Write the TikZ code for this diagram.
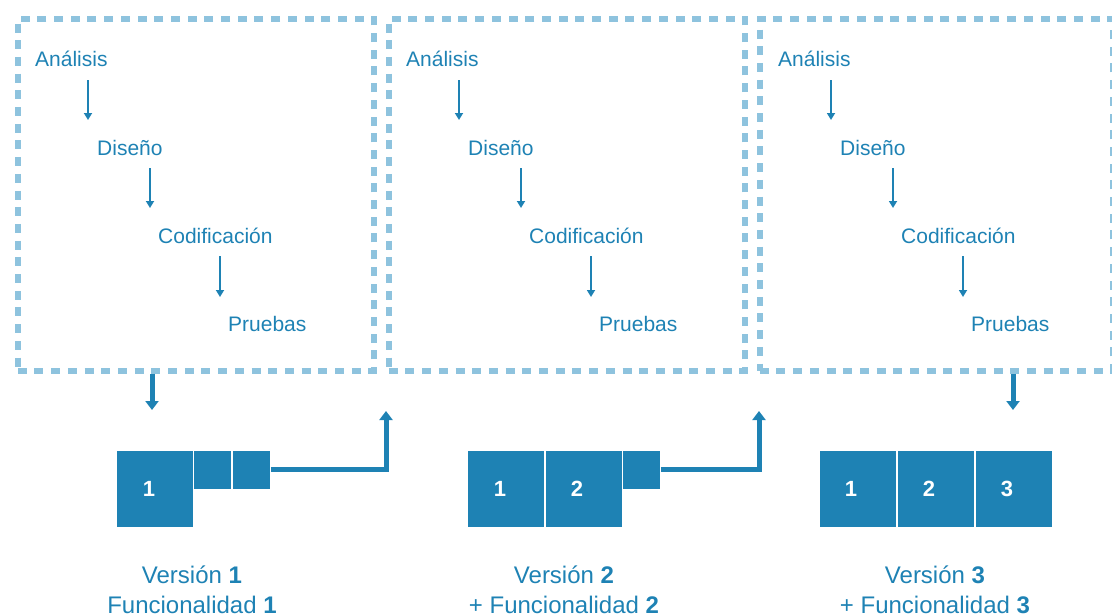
\documentclass[tikz,border=0pt]{standalone}
\usepackage{fontspec}
\setmainfont{Liberation Sans}
\usetikzlibrary{arrows.meta,calc}
\definecolor{dashblue}{HTML}{8EC3DE}
\definecolor{mainblue}{HTML}{1E82B4}
\begin{document}
\begin{tikzpicture}[x=1pt,y=-1pt,
  dbox/.style={draw=dashblue, line width=5.5pt, dash pattern=on 9pt off 7.7pt, inner sep=0, anchor=north west},
  lbl/.style={text=mainblue, font=\fontsize{21}{25}\selectfont, inner sep=0, anchor=base west},
  tarr/.style={draw=mainblue, line width=1.7pt, -{Triangle[width=8pt,length=7pt]}},
  barr/.style={draw=mainblue, line width=5pt, -{Triangle[width=13pt,length=9pt]}},
  blk/.style={fill=mainblue, draw=white, line width=0.8pt, inner sep=0, anchor=north west},
  numtxt/.style={text=white, font=\fontsize{22}{26}\selectfont\bfseries, inner sep=0},
  captxt/.style={text=mainblue, font=\fontsize{24}{28}\selectfont, inner sep=0, anchor=base}
]
\useasboundingbox (0,0) rectangle (1112,616);

% dashed iteration boxes
\node[dbox, minimum width=356pt, minimum height=352pt] (box1) at (15,16) {};
\node[dbox, minimum width=356pt, minimum height=352pt] (box2) at (386,16) {};
\node[dbox, minimum width=353pt, minimum height=352pt] (box3) at (757,16) {};

% phases inside each box
\foreach \i/\dx in {1/0,2/371,3/743}{
  \node[lbl] (ana\i) at (35+\dx,66) {Análisis};
  \node[lbl] (dis\i) at (97+\dx,155) {Diseño};
  \node[lbl] (cod\i) at (158+\dx,243) {Codificación};
  \node[lbl] (pru\i) at (228+\dx,331) {Pruebas};
  \draw[tarr] ($(ana\i.base -| dis\i.west)+(-9,14)$) -- ($(dis\i.base west)+(-9,-35)$);
  \draw[tarr] ($(dis\i.base -| cod\i.west)+(-8,13)$) -- ($(cod\i.base west)+(-8,-35)$);
  \draw[tarr] ($(cod\i.base -| pru\i.west)+(-8,13)$) -- ($(pru\i.base west)+(-8,-34)$);
}

% blocks version 1
\node[blk, minimum width=77pt, minimum height=77pt] (b1a) at (116,450) {};
\node[blk, minimum width=38pt, minimum height=39pt] (b1b) at (193,450) {};
\node[blk, minimum width=38pt, minimum height=39pt] (b1c) at (232,450) {};
\node[numtxt] (n1a) at ([xshift=-6pt]b1a.center) {1};

% blocks version 2
\node[blk, minimum width=77pt, minimum height=77pt] (b2a) at (467,450) {};
\node[blk, minimum width=77pt, minimum height=77pt] (b2b) at (545,450) {};
\node[blk, minimum width=38pt, minimum height=39pt] (b2c) at (622,450) {};
\node[numtxt] (n2a) at ([xshift=-6pt]b2a.center) {1};
\node[numtxt] (n2b) at ([xshift=-7pt]b2b.center) {2};

% blocks version 3
\node[blk, minimum width=77pt, minimum height=77pt] (b3a) at (819,450) {};
\node[blk, minimum width=77pt, minimum height=77pt] (b3b) at (897,450) {};
\node[blk, minimum width=77pt, minimum height=77pt] (b3c) at (975,450) {};
\node[numtxt] (n3a) at ([xshift=-7pt]b3a.center) {1};
\node[numtxt] (n3b) at ([xshift=-7pt]b3b.center) {2};
\node[numtxt] (n3c) at ([xshift=-7pt]b3c.center) {3};

% thick connectors
\coordinate (d1) at (152,410);
\coordinate (d3) at (1013,410);
\coordinate (u1) at (386,411);
\coordinate (u2) at (759,411);
\draw[barr] (box1.south -| d1) -- (d1);
\draw[barr] (box3.south -| d3) -- (d3);
\draw[barr] (b1c.east) -| (u1);
\draw[barr] (b2c.east) -| (u2);

% captions
\node[captxt] (v1) at (192,583) {Versión \textbf{1}};
\node[captxt] (f1) at (192,613) {Funcionalidad \textbf{1}};
\node[captxt] (v2) at (564,583) {Versión \textbf{2}};
\node[captxt] (f2) at (564,613) {+ Funcionalidad \textbf{2}};
\node[captxt] (v3) at (935,583) {Versión \textbf{3}};
\node[captxt] (f3) at (935,613) {+ Funcionalidad \textbf{3}};
\end{tikzpicture}
\end{document}
